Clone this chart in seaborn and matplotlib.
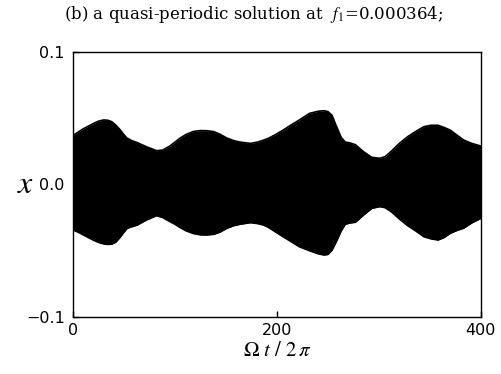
import matplotlib
matplotlib.use("Agg")
import matplotlib.pyplot as plt
import seaborn as sns
import pandas as pd

# Envelope of the quasi-periodic response x(t)
cycles = [0, 5, 10, 15, 20, 25, 30, 34, 38, 42, 46, 50, 53, 58, 63, 72, 82, 88,
          95, 100, 105, 111, 118, 125, 131, 138, 144, 151, 158, 164, 174, 181,
          187, 192, 197, 206, 214, 222, 232, 240, 246, 250, 254, 258, 263, 267,
          272, 277, 285, 293, 301, 306, 312, 320, 328, 336, 344, 351, 358, 364,
          370, 377, 383, 391, 400]
upper = [0.037, 0.0395, 0.042, 0.044, 0.046, 0.0478, 0.0487, 0.0485, 0.0474,
         0.0448, 0.0415, 0.0375, 0.035, 0.033, 0.0316, 0.0285, 0.0255, 0.026,
         0.029, 0.032, 0.035, 0.0378, 0.040, 0.0407, 0.0406, 0.0399, 0.038,
         0.035, 0.033, 0.032, 0.031, 0.032, 0.0335, 0.035, 0.037, 0.041, 0.045,
         0.0487, 0.0537, 0.0552, 0.0557, 0.055, 0.0522, 0.0445, 0.0355, 0.032,
         0.0313, 0.030, 0.0247, 0.0205, 0.0198, 0.021, 0.025, 0.031, 0.036,
         0.040, 0.0436, 0.0447, 0.0447, 0.043, 0.041, 0.037, 0.0336, 0.031,
         0.029]
lower = [-0.0343, -0.036, -0.038, -0.040, -0.042, -0.0437, -0.0448, -0.0452,
         -0.045, -0.0435, -0.040, -0.036, -0.0331, -0.0318, -0.0306, -0.0268,
         -0.0235, -0.025, -0.028, -0.030, -0.0325, -0.035, -0.037, -0.038,
         -0.0381, -0.0376, -0.036, -0.033, -0.031, -0.030, -0.0288, -0.0295,
         -0.0306, -0.0325, -0.035, -0.0394, -0.0432, -0.047, -0.050, -0.0522,
         -0.0532, -0.0528, -0.0495, -0.0435, -0.035, -0.030, -0.029, -0.0285,
         -0.023, -0.018, -0.0167, -0.0175, -0.0205, -0.026, -0.031, -0.035,
         -0.0394, -0.041, -0.0419, -0.040, -0.0368, -0.0345, -0.033, -0.029,
         -0.0255]
xticks = [0, 200, 400]
yticks = [-0.1, 0.0, 0.1]
ytick_labels = ["\u22120.1", "0.0", "0.1"]

sns.set_style("ticks")
plt.rcParams["mathtext.fontset"] = "stix"
plt.rcParams["font.family"] = ["DejaVu Sans"]
for key in ["text.color", "axes.labelcolor", "xtick.color", "ytick.color",
            "axes.edgecolor"]:
    plt.rcParams[key] = "black"

df = pd.DataFrame({"t": cycles, "upper": upper, "lower": lower})

fig = plt.figure(figsize=(5.02, 3.74), dpi=100)
ax = fig.add_axes([0.1454, 0.1524, 0.8126, 0.7086])

sns.lineplot(data=df, x="t", y="upper", color="black", lw=1.2, ax=ax)
sns.lineplot(data=df, x="t", y="lower", color="black", lw=1.2, ax=ax)
ax.fill_between(df["t"], df["lower"], df["upper"], color="black", lw=0)

ax.set_xlim(0, 400)
ax.set_ylim(-0.1, 0.1)
ax.set_xticks(xticks)
ax.set_xticklabels([str(v) for v in xticks], fontsize=11.5)
ax.set_yticks(yticks)
ax.set_yticklabels(ytick_labels, fontsize=11.5)
ax.tick_params(direction="in", length=4, width=1, colors="black")
ax.tick_params(axis="x", pad=4)
ax.tick_params(axis="y", pad=6)
for s in ax.spines.values():
    s.set_visible(True)
    s.set_linewidth(1)
    s.set_color("black")

ax.set_xlabel(r"$\Omega\ t\ /\ 2\,\pi$", fontsize=15, labelpad=2, color="black")
ax.set_ylabel(r"$x$", fontsize=23, rotation=0, va="center", ha="center",
              color="black")
ax.yaxis.set_label_coords(-0.115, 0.5)

fig.text(0.505, 0.96, r"(b) a quasi-periodic solution at  $f_1$=0.000364;",
         ha="center", va="center", fontsize=12, family="DejaVu Serif",
         color="black")

fig.savefig("out.png", dpi=100, facecolor="white")
